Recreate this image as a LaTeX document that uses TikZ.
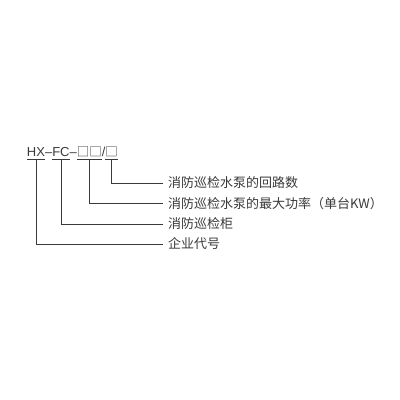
\documentclass[tikz,border=0pt]{standalone}
\usepackage{fontspec}
\usetikzlibrary{calc}
\setmainfont{Noto Sans CJK SC}
\newfontfamily\codefont{Liberation Sans}
\newfontfamily\boxfont{Noto Sans CJK SC}
\definecolor{ink}{HTML}{3A3A3A}
\begin{document}
\begin{tikzpicture}[x=1pt,y=-1pt,
  lbl/.style={anchor=west,inner sep=0pt,font=\fontsize{13}{13}\selectfont,text=ink},
  part/.style={anchor=base west,inner sep=0pt,outer sep=0pt,text=ink,font=\codefont\fontsize{13}{13}\selectfont},
  bx/.style={part,font=\boxfont\fontsize{12.5}{12.5}\selectfont},
  conn/.style={draw=ink,line width=0.8pt}]
\useasboundingbox[fill=white] (0,0) rectangle (400,400);
\node[part] (hx) at (27,156.5) {HX};
\node[part] (d1) at (hx.base east) {–};
\node[part] (fc) at (d1.base east) {FC};
\node[part] (d2) at (fc.base east) {–};
\node[bx] (b1) at (d2.base east) {□□};
\node[part] (sl) at (b1.base east) {/};
\node[bx] (b2) at (sl.base east) {□};
\coordinate (u1a) at (hx.west |- 0,159); \coordinate (u1b) at (hx.east |- 0,159);
\coordinate (u2a) at (fc.west |- 0,159); \coordinate (u2b) at (fc.east |- 0,159);
\coordinate (u3a) at (b1.west |- 0,159); \coordinate (u3b) at (b1.east |- 0,159);
\coordinate (u4a) at (b2.west |- 0,159); \coordinate (u4b) at (b2.east |- 0,159);
\node[lbl] (t1) at (168,183) {消防巡检水泵的回路数};
\node[lbl] (t2) at (168,203.5) {消防巡检水泵的最大功率（单台KW）};
\node[lbl] (t3) at (168,224) {消防巡检柜};
\node[lbl] (t4) at (168,244) {企业代号};
\draw[conn] (u1a) -- (u1b) (u2a) -- (u2b) (u3a) -- (u3b) (u4a) -- (u4b);
\draw[conn] ($(u4a)!0.5!(u4b)$) |- ([xshift=-5pt]t1.west);
\draw[conn] ($(u3a)!0.5!(u3b)$) |- ([xshift=-5pt]t2.west);
\draw[conn] ($(u2a)!0.5!(u2b)$) |- ([xshift=-5pt]t3.west);
\draw[conn] ($(u1a)!0.5!(u1b)$) |- ([xshift=-5pt]t4.west);
\end{tikzpicture}
\end{document}
